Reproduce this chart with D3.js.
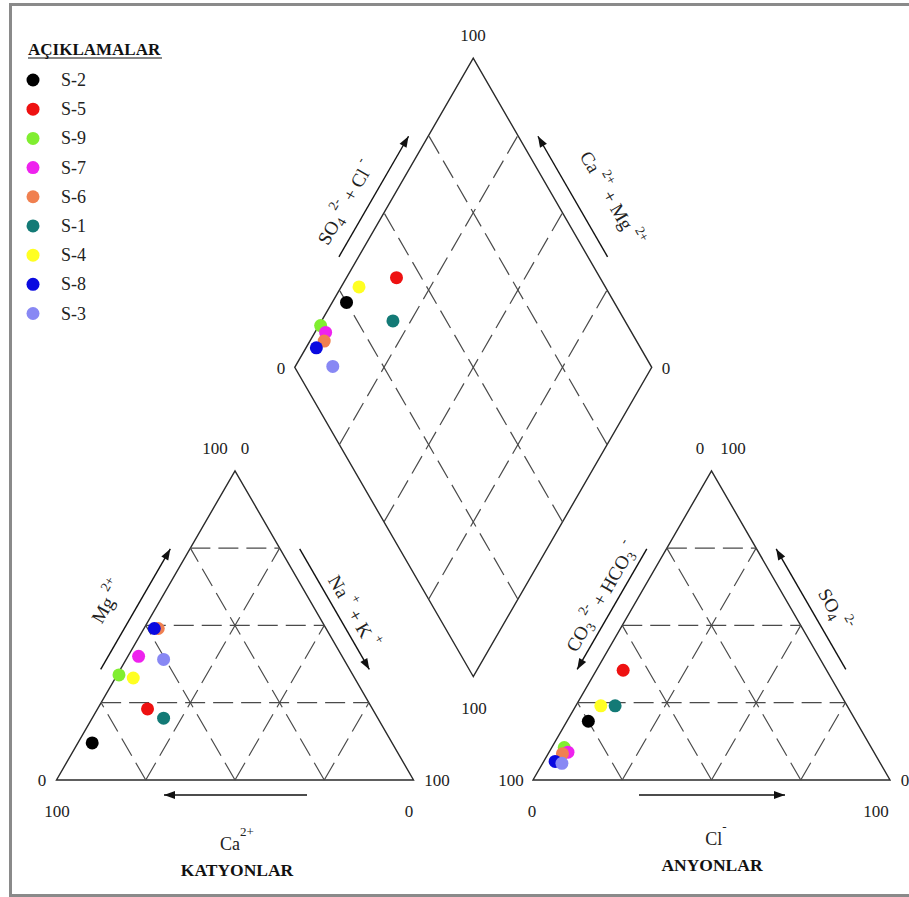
<!DOCTYPE html>
<html><head><meta charset="utf-8">
<script src="https://cdn.jsdelivr.net/npm/d3@7"></script>
<style>html,body{margin:0;padding:0;background:#fff;}svg{display:block;}</style>
</head><body>
<svg id="chart" width="909" height="897"></svg>
<script>
// ---------- DATA (percent, meq-based) ----------
const samples = ['S-2','S-5','S-9','S-7','S-6','S-1','S-4','S-8','S-3'];
const colors  = ['#000000','#ee1111','#80ee30','#ee22ee','#f08050','#137a76','#ffff22','#0a0ae0','#8888f4'];
// cations
const ca   = [84, 63, 65.5, 57, 47, 60, 62, 48.1, 50.5];
const mg   = [12, 23, 34, 40, 49, 20, 33, 49, 39];
const naK  = [4, 14, 0.5, 3, 4, 20, 5, 2.9, 10.5];
// anions
const hco3 = [75, 57, 86, 85.7, 87.5, 65, 69, 90.8, 89.2];
const so4  = [19, 35.5, 10.5, 9, 8.5, 24, 24, 6, 5.4];
const cl   = [6, 7.5, 3.5, 5.3, 4, 11, 7, 3.2, 5.4];
// grid levels and corner tick labels
const gridLevels = [25, 50, 75];
const cationTicks = ['100', '0', '0', '100', '100', '0'];
const anionTicks  = ['0', '100', '100', '0', '0', '100'];
const diamondTicks = ['100', '0', '0', '100'];
const legendTitle = 'AÇIKLAMALAR';

// ---------- GEOMETRY ----------
const svg = d3.select('#chart');
const serif = '"Liberation Serif","DejaVu Serif",serif';
const S = 357, H = S * Math.sqrt(3) / 2;
const catBL = [56.5, 780], anBL = [533, 780];
const gap = anBL[0] - (catBL[0] + S);
const B = [(catBL[0] + S + anBL[0]) / 2, catBL[1] - gap / 2 * Math.sqrt(3)];
const pct = d3.scaleLinear().domain([0, 100]).range([0, 1]);

function triPt(bl, a, b) { return [bl[0] + S * (a + b / 2), bl[1] - H * b]; }
function diaPt(a, b) { return [B[0] + S * 0.5 * (b - a), B[1] - H * (a + b)]; }
const line = d3.line();

// frame
svg.append('rect').attr('x', 10.5).attr('y', 4.5).attr('width', 910).attr('height', 891)
  .attr('fill', 'none').attr('stroke', '#8a8a8a').attr('stroke-width', 3);

const gGrid = svg.append('g').attr('fill', 'none');
function solid(pts) { gGrid.append('path').attr('d', line(pts) + 'Z').attr('stroke', '#2a2a2a').attr('stroke-width', 1.4); }
function dash(p, q) { gGrid.append('path').attr('d', line([p, q])).attr('stroke', '#4a4a4a').attr('stroke-width', 1.2).attr('stroke-dasharray', '20,8'); }

[catBL, anBL].forEach(bl => {
  solid([triPt(bl, 0, 0), triPt(bl, 1, 0), triPt(bl, 0, 1)]);
  gridLevels.forEach(v => {
    const k = pct(v);
    dash(triPt(bl, 0, k), triPt(bl, 1 - k, k));
    dash(triPt(bl, k, 0), triPt(bl, k, 1 - k));
    dash(triPt(bl, 1 - k, 0), triPt(bl, 0, 1 - k));
  });
});
solid([diaPt(0, 0), diaPt(1, 0), diaPt(1, 1), diaPt(0, 1)]);
gridLevels.forEach(v => {
  const k = pct(v);
  dash(diaPt(k, 0), diaPt(k, 1));
  dash(diaPt(0, k), diaPt(1, k));
});

// ---------- arrows ----------
const gA = svg.append('g');
function arrow(p, q) {
  gA.append('path').attr('d', line([p, q])).attr('stroke', '#111').attr('stroke-width', 1.4);
  const dx = q[0] - p[0], dy = q[1] - p[1], L = Math.hypot(dx, dy), ux = dx / L, uy = dy / L;
  const len = 11, w = 4;
  const b0 = [q[0] - ux * len, q[1] - uy * len];
  gA.append('path').attr('d', line([q, [b0[0] - uy * w, b0[1] + ux * w], [b0[0] + uy * w, b0[1] - ux * w]]) + 'Z').attr('fill', '#111');
}
function sideArrow(from, to, off, headAtTo) {
  const dx = to[0] - from[0], dy = to[1] - from[1];
  const p = [from[0] + dx * 0.33 + off[0], from[1] + dy * 0.33 + off[1]];
  const q = [from[0] + dx * 0.72 + off[0], from[1] + dy * 0.72 + off[1]];
  if (headAtTo) arrow(p, q); else arrow(q, p);
}
const d = 17, c60 = Math.cos(Math.PI / 3), s60 = Math.sin(Math.PI / 3);
sideArrow(triPt(catBL, 0, 0), triPt(catBL, 0, 1), [-d * s60, -d * c60], true);
sideArrow(triPt(catBL, 1, 0), triPt(catBL, 0, 1), [d * s60, -d * c60], false);
sideArrow(triPt(anBL, 0, 0), triPt(anBL, 0, 1), [-d * s60, -d * c60], false);
sideArrow(triPt(anBL, 1, 0), triPt(anBL, 0, 1), [d * s60, -d * c60], true);
sideArrow(diaPt(1, 0), diaPt(1, 1), [-d * s60, -d * c60], true);
sideArrow(diaPt(0, 1), diaPt(1, 1), [d * s60, -d * c60], true);
arrow([307, 795], [164, 795]);
arrow([639, 795], [785, 795]);

// ---------- text ----------
const gT = svg.append('g').style('font-family', serif).attr('fill', '#222');
function txt(x, y, s, anchor, size, weight) {
  return gT.append('text').attr('x', x).attr('y', y).attr('text-anchor', anchor || 'middle')
    .style('font-size', (size || 17) + 'px').style('font-weight', weight || 'normal').text(s);
}
function rich(cx, cy, rot, segs, size) {
  const t = gT.append('text').attr('text-anchor', 'middle')
    .attr('transform', `translate(${cx},${cy}) rotate(${rot})`)
    .style('font-size', size + 'px');
  let cur = -6;
  segs.forEach(sg => {
    const target = sg.sup ? -11 : sg.sub ? 4 : 0;
    t.append('tspan').attr('dy', target - cur)
      .style('font-size', (sg.sup || sg.sub ? 13.5 : size) + 'px').text(sg.t);
    cur = target;
  });
  return t;
}

// corner labels
txt(215, 454, cationTicks[0]); txt(245, 454, cationTicks[1]);
txt(42, 786, cationTicks[2]); txt(57, 817, cationTicks[3]);
txt(437, 786, cationTicks[4]); txt(409, 817, cationTicks[5]);
txt(700, 454, anionTicks[0]); txt(733, 454, anionTicks[1]);
txt(511, 786, anionTicks[2]); txt(532, 817, anionTicks[3]);
txt(905, 786, anionTicks[4]); txt(876, 817, anionTicks[5]);
txt(473, 41, diamondTicks[0]); txt(281, 374, diamondTicks[1]);
txt(666, 374, diamondTicks[2]); txt(474, 714, diamondTicks[3]);

// axis titles (base)
const caT = gT.append('text').attr('x', 237).attr('y', 850).attr('text-anchor', 'middle').style('font-size', '18px');
caT.append('tspan').text('Ca');
caT.append('tspan').attr('dy', -14).style('font-size', '13px').text('2+');
txt(237, 876, 'KATYONLAR', 'middle', 17.5, 'bold').attr('fill', '#111');
const clT = gT.append('text').attr('x', 716).attr('y', 845).attr('text-anchor', 'middle').style('font-size', '18px');
clT.append('tspan').text('Cl');
clT.append('tspan').attr('dy', -14).style('font-size', '13px').text('-');
txt(712, 871, 'ANYONLAR', 'middle', 17.5, 'bold').attr('fill', '#111');

// rotated side titles
rich(108, 602, -60, [{t: 'Mg  '}, {t: '2+', sup: true}], 19);
rich(353, 612, 60, [{t: 'Na  '}, {t: '+', sup: true}, {t: '  + K  '}, {t: '+', sup: true}], 19);
rich(346, 203, -60, [{t: 'SO'}, {t: '4', sub: true}, {t: ' 2-', sup: true}, {t: ' + Cl '}, {t: '-', sup: true}], 19);
rich(611, 199, 60, [{t: 'Ca  '}, {t: '2+', sup: true}, {t: '  + Mg  '}, {t: '2+', sup: true}], 19);
rich(602, 597, -60, [{t: 'CO'}, {t: '3', sub: true}, {t: '  2-', sup: true}, {t: '  + HCO'}, {t: '3', sub: true}, {t: '  -', sup: true}], 19);
rich(834, 610, 60, [{t: 'SO'}, {t: '4', sub: true}, {t: '  2-', sup: true}], 19);

// ---------- points ----------
const gP = svg.append('g');
const idx = d3.range(samples.length);
const r = 6.5;
gP.selectAll('circle.cat').data(idx).join('circle').attr('class', 'cat')
  .attr('cx', i => triPt(catBL, pct(naK[i]), pct(mg[i]))[0])
  .attr('cy', i => triPt(catBL, pct(naK[i]), pct(mg[i]))[1])
  .attr('r', r).attr('fill', i => colors[i]);
gP.selectAll('circle.an').data(idx).join('circle').attr('class', 'an')
  .attr('cx', i => triPt(anBL, pct(cl[i]), pct(so4[i]))[0])
  .attr('cy', i => triPt(anBL, pct(cl[i]), pct(so4[i]))[1])
  .attr('r', r).attr('fill', i => colors[i]);
gP.selectAll('circle.dia').data(idx).join('circle').attr('class', 'dia')
  .attr('cx', i => diaPt(pct(ca[i] + mg[i]), pct(so4[i] + cl[i]))[0])
  .attr('cy', i => diaPt(pct(ca[i] + mg[i]), pct(so4[i] + cl[i]))[1])
  .attr('r', r).attr('fill', i => colors[i]);

// ---------- legend ----------
const gL = svg.append('g').style('font-family', serif);
gL.append('text').attr('x', 28).attr('y', 55).style('font-size', '17px').style('font-weight', 'bold')
  .attr('fill', '#111').text(legendTitle);
gL.append('line').attr('x1', 28).attr('x2', 162).attr('y1', 58).attr('y2', 58).attr('stroke', '#111').attr('stroke-width', 1.2);
const ly = d3.scaleLinear().domain([0, samples.length - 1]).range([80, 313.5]);
idx.forEach(i => {
  gL.append('circle').attr('cx', 33).attr('cy', ly(i)).attr('r', r).attr('fill', colors[i]);
  gL.append('text').attr('x', 61).attr('y', ly(i) + 6).style('font-size', '18px').attr('fill', '#222').text(samples[i]);
});
</script>
</body></html>
